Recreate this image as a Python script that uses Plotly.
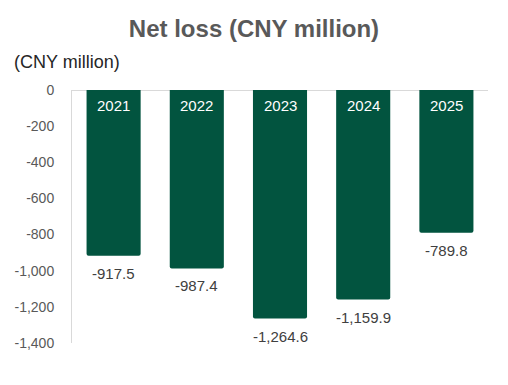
import plotly.graph_objects as go

years = ["2021", "2022", "2023", "2024", "2025"]
net_loss = [-917.5, -987.4, -1264.6, -1159.9, -789.8]
value_labels = ["-917.5", "-987.4", "-1,264.6", "-1,159.9", "-789.8"]
tick_vals = [0, -200, -400, -600, -800, -1000, -1200, -1400]
tick_text = ["0", "-200", "-400", "-600", "-800", "-1,000", "-1,200", "-1,400"]

FONT = "Liberation Sans, Arial, sans-serif"
GREEN = "#02543F"

xs = list(range(len(years)))

fig = go.Figure()
fig.add_trace(go.Bar(
    x=xs, y=net_loss,
    marker=dict(color=GREEN, line=dict(width=0)),
    width=0.65,
    hoverinfo="skip",
))

for i, yr in enumerate(years):
    fig.add_annotation(x=i, y=0, text=yr, showarrow=False, yanchor="top", yshift=-5,
                       font=dict(family=FONT, size=15, color="white"))

for i, (v, lab) in enumerate(zip(net_loss, value_labels)):
    fig.add_annotation(x=i, y=v, text=lab, showarrow=False, yanchor="top", yshift=-7,
                       font=dict(family=FONT, size=15, color="#404040"))

fig.update_layout(
    width=508, height=385,
    margin=dict(l=72, r=20, t=90, b=42, autoexpand=False),
    paper_bgcolor="white", plot_bgcolor="white",
    showlegend=False,
    barcornerradius=2,
    title=dict(text="<b>Net loss (CNY million)</b>", x=0.5, xanchor="center",
               y=1 - 29 / 385, yanchor="middle", yref="container",
               font=dict(family=FONT, size=24, color="#595959")),
    xaxis=dict(range=[-0.5, 4.5], showticklabels=False, showgrid=False, showline=False,
               zeroline=False, ticks=""),
    yaxis=dict(range=[-1400, 0], tickvals=tick_vals, ticktext=tick_text,
               showgrid=False, zeroline=True, zerolinecolor="#d9d9d9", zerolinewidth=1,
               showline=True, linecolor="#d9d9d9", linewidth=1,
               ticks="outside", ticklen=14, tickcolor="rgba(0,0,0,0)",
               tickfont=dict(family=FONT, size=14, color="#595959")),
)

fig.add_annotation(xref="paper", yref="paper", x=0, y=1, xanchor="left", yanchor="middle",
                   xshift=-60, yshift=28, text="(CNY million)", showarrow=False,
                   font=dict(family=FONT, size=18, color="#262626"))

fig.write_html("out.html", post_script="document.body.style.margin='0';",
               config={"displayModeBar": False})
